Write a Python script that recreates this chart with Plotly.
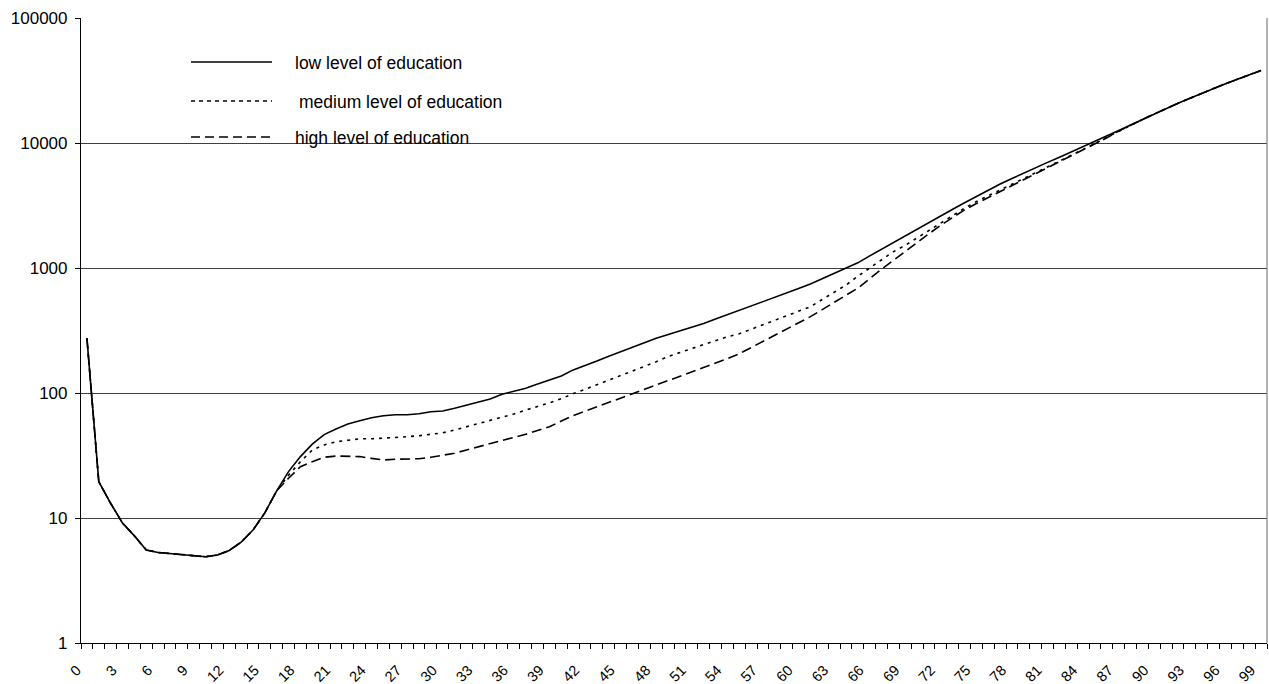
import plotly.graph_objects as go

ages = list(range(100))
tick_ages = list(range(0, 100, 3))
tick_labels = [str(a) for a in tick_ages]
y_ticks = [1, 10, 100, 1000, 10000, 100000]
y_labels = ["1", "10", "100", "1000", "10000", "100000"]

series_names = ["low level of education", "medium level of education", "high level of education"]

low = [274, 19.5, 13.1, 9.1, 7.2, 5.55, 5.3, 5.2, 5.15, 5.05,
       4.9, 5.05, 5.5, 6.4, 8.0, 11.0, 16.5, 23.5, 31, 39,
       46.5, 51.5, 56.5, 60, 63.4, 65.8, 67, 67, 68.3, 70.8,
       71.8, 75.5, 80, 85, 89.5, 97.7, 103, 109, 118, 127,
       137, 153, 165, 180, 197, 213, 232, 252, 274, 293,
       315, 337, 360, 390, 422, 456, 494, 535, 580, 630,
       685, 745, 820, 905, 1000, 1100, 1250, 1410, 1600, 1800,
       2030, 2300, 2600, 2950, 3330, 3750, 4200, 4700, 5200, 5760,
       6350, 7000, 7700, 8480, 9300, 10240, 11350, 12570, 13930, 15430,
       17100, 18950, 20770, 22760, 24950, 27350, 29800, 32350, 35100, 38100]

medium = [274, 19.5, 13.1, 9.1, 7.2, 5.55, 5.3, 5.2, 5.15, 5.05,
          4.9, 5.05, 5.5, 6.4, 8.0, 11.0, 16.5, 22, 28.2, 35,
          38.4, 40.7, 42, 43, 43, 43.4, 44.2, 44.7, 45.5, 46.7,
          48, 50.6, 53.7, 56.5, 60, 64, 68, 73, 77.7, 83.5,
          90, 99, 107, 117, 127, 138, 150, 163, 178, 196,
          211, 227, 244, 262, 282, 298, 325, 352, 382, 415,
          450, 490, 560, 640, 730, 860, 1000, 1160, 1350, 1520,
          1740, 1990, 2280, 2640, 3010, 3400, 3800, 4200, 4680, 5200,
          5780, 6420, 7150, 7950, 8850, 9900, 11100, 12450, 13930, 15430,
          17100, 18950, 20770, 22760, 24950, 27350, 29800, 32350, 35100, 38100]

high = [274, 19.5, 13.1, 9.1, 7.2, 5.55, 5.3, 5.2, 5.15, 5.05,
        4.9, 5.05, 5.5, 6.4, 8.0, 11.0, 16.5, 20.8, 25.7, 28.2,
        30.6, 31.3, 31.3, 31, 30, 29.1, 29.5, 29.8, 29.8, 30.6,
        31.9, 33, 35, 37.2, 39, 42, 44.2, 46.7, 50, 53.7,
        59.7, 66, 71.5, 77.5, 84, 91, 98, 107, 116, 126,
        136, 148, 160, 174, 188, 206, 231, 259, 290, 325,
        365, 408, 465, 530, 605, 690, 820, 980, 1150, 1360,
        1600, 1880, 2200, 2540, 2920, 3280, 3660, 4080, 4560, 5080,
        5660, 6300, 7020, 7830, 8750, 9800, 11000, 12450, 13930, 15430,
        17100, 18950, 20770, 22760, 24950, 27350, 29800, 32350, 35100, 38100]

FONT = "Liberation Sans, Arial, sans-serif"
dashes = ["solid", "3px,5px", "10px,5px"]
legend_dash = ["solid", "4px,4px", "9px,5px"]

fig = go.Figure()
for name, vals, d in zip(series_names[::-1], [high, medium, low], dashes[::-1]):
    fig.add_trace(go.Scatter(x=ages, y=vals, mode="lines", name=name,
                             line=dict(color="black", width=1.6, dash=d),
                             showlegend=False))

# plot-area geometry (pixels) for the hand-placed legend
L, R, T, B = 81, 1267, 18, 643
def px(xp):
    return (xp - L) / (R - L)
def py(yp):
    return (B - yp) / (B - T)

leg_rows = [(62, 293), (101, 297), (137, 293)]
for (yy, tx), name, d in zip(leg_rows, series_names, legend_dash):
    fig.add_shape(type="line", xref="paper", yref="paper",
                  x0=px(191), x1=px(272), y0=py(yy), y1=py(yy),
                  line=dict(color="black", width=1.4, dash=d))
    fig.add_annotation(xref="paper", yref="paper", x=px(tx), y=py(yy + 1),
                       text=name, showarrow=False, xanchor="left", yanchor="middle",
                       font=dict(family=FONT, size=17.5, color="black"))

# right border of plot area
fig.add_shape(type="line", xref="paper", yref="paper", x0=1, x1=1, y0=0, y1=1,
              line=dict(color="#808080", width=1.2))

fig.update_layout(
    width=1269, height=684,
    margin=dict(l=L, r=1269 - R, t=T, b=684 - B, autoexpand=False),
    paper_bgcolor="white", plot_bgcolor="white",
    font=dict(family=FONT, size=17, color="black"),
    showlegend=False,
)
fig.update_xaxes(
    range=[-0.5, 99.5], tickmode="array", tickvals=tick_ages, ticktext=tick_labels,
    tickangle=-45, ticks="", showgrid=False, zeroline=False,
    showline=True, linecolor="black", linewidth=1.2,
    ticklabelshift=-10, ticklabelstandoff=12,
    tickfont=dict(family=FONT, size=14.5, color="black"),
    minor=dict(tick0=-0.5, dtick=1, ticks="outside", ticklen=5, tickcolor="black",
               tickwidth=1, showgrid=False),
)
fig.update_yaxes(
    type="log", range=[0, 5], tickmode="array", tickvals=y_ticks, ticktext=y_labels,
    ticks="outside", ticklen=5, tickcolor="black", ticklabelstandoff=4,
    showgrid=True, gridcolor="#404040", gridwidth=1,
    showline=True, linecolor="black", linewidth=1.2, zeroline=False,
    tickfont=dict(family=FONT, size=17, color="black"),
)

fig.write_html("out.html", config={"displayModeBar": False},
               post_script="document.body.style.margin='0';document.body.style.overflow='hidden';")
